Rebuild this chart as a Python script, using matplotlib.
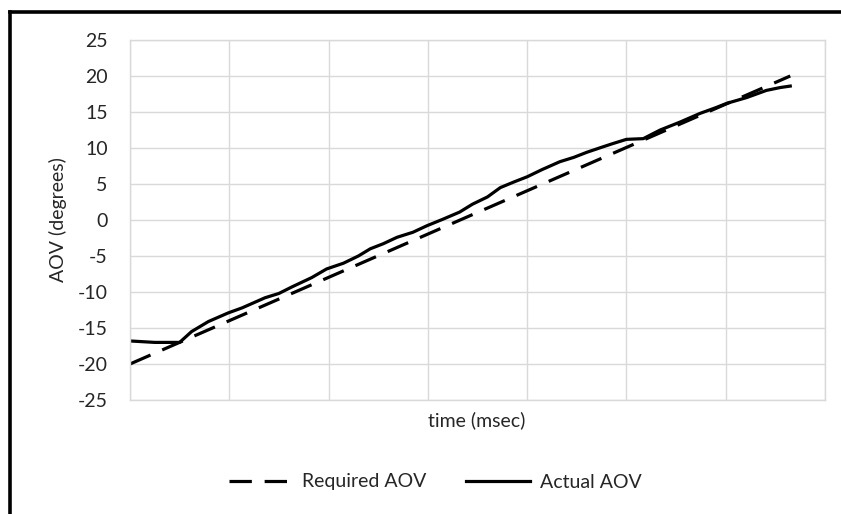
import matplotlib
matplotlib.use("Agg")
import matplotlib.pyplot as plt
from matplotlib.lines import Line2D

plt.rcParams['font.family'] = ['Lato', 'DejaVu Sans']
plt.rcParams['axes.unicode_minus'] = False

# time in grid units (7 divisions on the x axis, no tick labels)
t_req = [0.0, 6.65]
aov_req = [-20.0, 20.0]

t_act = [0.00, 0.25, 0.50, 0.62, 0.79, 0.99, 1.13, 1.36, 1.50, 1.63, 1.83,
         1.98, 2.15, 2.30, 2.42, 2.55, 2.69, 2.85, 2.99, 3.15, 3.32, 3.45,
         3.60, 3.73, 3.87, 4.00, 4.15, 4.33, 4.47, 4.60, 4.75, 4.86, 5.00,
         5.17, 5.34, 5.54, 5.74, 5.90, 6.01, 6.21, 6.41, 6.55, 6.65]
aov_act = [-16.8, -17.0, -17.0, -15.5, -14.1, -12.9, -12.2, -10.8, -10.2, -9.3, -8.0,
           -6.8, -6.0, -5.0, -4.0, -3.3, -2.4, -1.7, -0.8, 0.1, 1.1, 2.2,
           3.2, 4.5, 5.3, 6.0, 7.0, 8.1, 8.7, 9.4, 10.1, 10.6, 11.2,
           11.3, 12.5, 13.6, 14.8, 15.6, 16.2, 17.0, 18.0, 18.4, 18.6]

yticks = list(range(-25, 30, 5))
text_col = '#262626'
grid_col = '#d9d9d9'
fs = 14

fig = plt.figure(figsize=(8.41, 5.14), dpi=100)
ax = fig.add_axes([130 / 841, 1 - 400 / 514, 695 / 841, 360 / 514])

ax.plot(t_req, aov_req, color='black', lw=2.3, dashes=(7, 4), label='Required AOV')
ax.plot(t_act, aov_act, color='black', lw=2.3, label='Actual AOV')

ax.set_xlim(0, 7)
ax.set_ylim(-25, 25)
ax.set_yticks(yticks)
ax.set_xticks(range(0, 8))
ax.set_xticklabels([])
ax.grid(True, color=grid_col, lw=1.0)
ax.set_axisbelow(True)
ax.tick_params(length=0, pad=16, labelsize=fs, colors=text_col)
for sp in ax.spines.values():
    sp.set_color(grid_col)
    sp.set_linewidth(1.0)

ax.set_ylabel('AOV (degrees)', fontsize=fs, color=text_col, labelpad=8)
fig.text(477 / 841, 1 - 420 / 514, 'time (msec)', fontsize=fs, color=text_col,
         ha='center', va='center')

fig.legend(loc='center', bbox_to_anchor=(435 / 841, 1 - 482 / 514), ncol=2,
           frameon=False, fontsize=fs, handlelength=3.3, columnspacing=2.0,
           handletextpad=0.5, labelcolor=text_col)

# thick outer border (top and left)
fig.add_artist(Line2D([10 / 841, 1.0], [1 - 12 / 514, 1 - 12 / 514],
                      color='black', lw=2.6, transform=fig.transFigure))
fig.add_artist(Line2D([10 / 841, 10 / 841], [1 - 12 / 514, 0.0],
                      color='black', lw=2.6, transform=fig.transFigure))

fig.savefig('out.png', dpi=100)
